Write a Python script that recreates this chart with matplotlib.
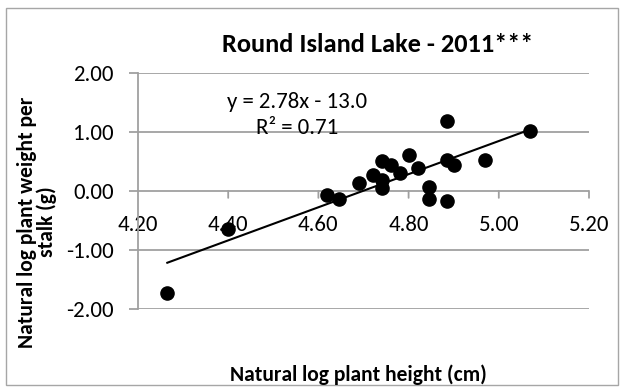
import numpy as np
import matplotlib
matplotlib.use("Agg")
import matplotlib.pyplot as plt
from matplotlib.patches import Rectangle
from matplotlib.transforms import offset_copy

# Log-transformed plant measurements, Round Island Lake 2011
log_height = [4.265, 4.40, 4.62, 4.645, 4.69, 4.72, 4.74, 4.74, 4.74, 4.76,
              4.78, 4.80, 4.82, 4.845, 4.845, 4.885, 4.885, 4.885, 4.90, 4.97, 5.07]
log_weight = [-1.73, -0.65, -0.07, -0.14, 0.14, 0.27, 0.50, 0.18, 0.045, 0.43,
              0.30, 0.60, 0.38, 0.06, -0.13, 1.19, 0.53, -0.165, 0.43, 0.53, 1.01]

x_ticks = [4.20, 4.40, 4.60, 4.80, 5.00, 5.20]
y_ticks = [-2.00, -1.00, 0.00, 1.00, 2.00]

title = "Round Island Lake - 2011***"
x_label = "Natural log plant height (cm)"
y_label = "Natural log plant weight per\nstalk (g)"
eq_text = "y = 2.78x - 13.0"
r2_text = "R² = 0.71"

plt.rcParams['font.family'] = ['Carlito', 'Lato', 'DejaVu Sans']

W, H = 622, 388
fig = plt.figure(figsize=(W / 100, H / 100), dpi=100)


def fx(px):
    return px / W


def fy(py):
    return 1 - py / H


# chart frame
fig.patches.append(Rectangle((6 / W, 3 / H), 1 - 10 / W, 1 - 11 / H, transform=fig.transFigure,
                             fill=False, edgecolor="#a6a6a6", linewidth=1.0))

left, right, top, bottom = 138, 589, 72.7, 309
ax = fig.add_axes([fx(left), fy(bottom), (right - left) / W, (bottom - top) / H])

ax.set_xlim(x_ticks[0], x_ticks[-1])
ax.set_ylim(y_ticks[0], y_ticks[-1])

grid_c = "#a0a0a0"
for yv in y_ticks:
    ax.axhline(yv, color=grid_c, linewidth=1.3, zorder=1)

for s in ["top", "right", "bottom"]:
    ax.spines[s].set_visible(False)
ax.spines["left"].set_color(grid_c)
ax.spines["left"].set_linewidth(1.3)

fs = 16.5
ax.set_yticks(y_ticks)
ax.set_yticklabels([f"{v:.2f}" for v in y_ticks], fontsize=fs)
ax.tick_params(axis="y", length=6.5, width=1.3, color=grid_c, pad=11)

# x axis crosses at y = 0: ticks and labels along that line
ax.set_xticks([])
tick_tr = offset_copy(ax.transData, fig=fig, x=0, y=-7, units="dots")
label_tr = offset_copy(ax.transData, fig=fig, x=0, y=-40.5, units="dots")
for xv in x_ticks[1:]:
    ax.annotate("", xy=(xv, 0), xycoords=tick_tr, xytext=(xv, 0), textcoords="data",
                arrowprops=dict(arrowstyle="-", color=grid_c, linewidth=1.3,
                                shrinkA=0, shrinkB=0))
for xv in x_ticks:
    ax.text(xv, 0, f"{xv:.2f}", transform=label_tr, ha="center", va="baseline",
            fontsize=fs, zorder=2)

# scatter points
ax.scatter(log_height, log_weight, s=90, color="black", zorder=4, clip_on=False)

# least-squares trend line
slope, intercept = np.polyfit(log_height, log_weight, 1)
xs = np.array([min(log_height), max(log_height)])
ax.plot(xs, slope * xs + intercept, color="black", linewidth=1.5, zorder=3)

fig.text(fx(297.5), fy(108), eq_text, ha="center", va="baseline", fontsize=16.5, zorder=5)
fig.text(fx(297.5), fy(134), r2_text, ha="center", va="baseline", fontsize=16.5, zorder=5)

fig.text(fx(222), fy(51.7), title, ha="left", va="baseline", fontsize=19, fontweight="bold")
fig.text(fx(358), fy(381), x_label, ha="center", va="baseline", fontsize=15.5, fontweight="bold")
fig.text(fx(37), fy(222), y_label, ha="center", va="center", fontsize=15.5,
         fontweight="bold", rotation=90, linespacing=1.0)

fig.savefig("out.png", dpi=100)
